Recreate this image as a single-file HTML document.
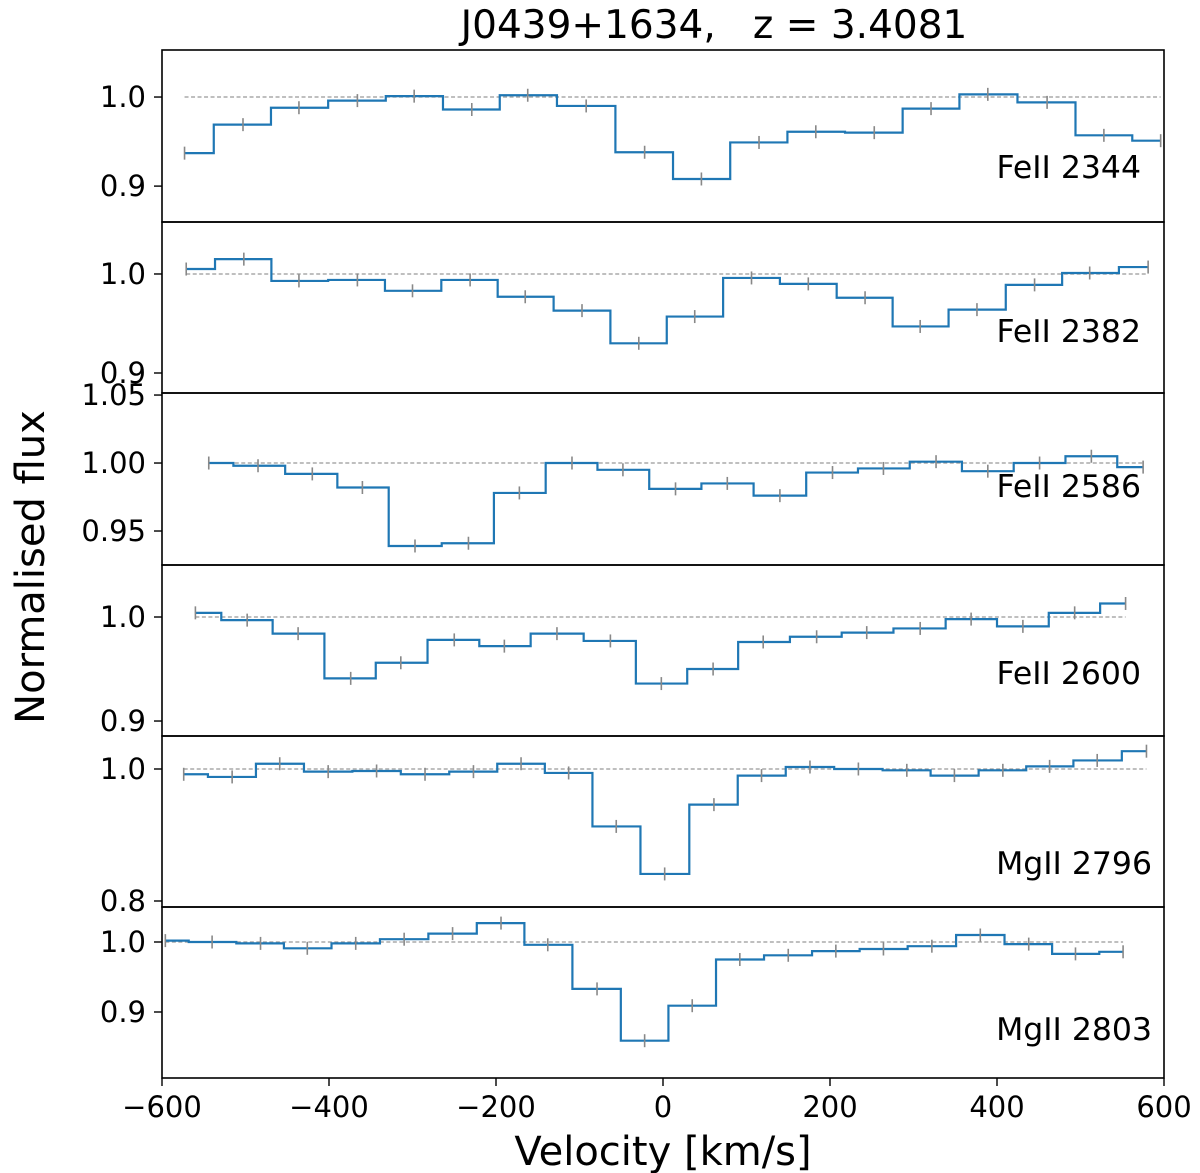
<!DOCTYPE html>
<html><head><meta charset="utf-8"><style>
html,body{margin:0;padding:0;background:#fff;}
svg{display:block;font-family:"DejaVu Sans","Liberation Sans",sans-serif;}
text{white-space:pre;}
</style></head><body>
<svg id="chart" width="1200" height="1173" viewBox="0 0 1200 1173" xmlns="http://www.w3.org/2000/svg">
<text x="714" y="38" font-size="39" text-anchor="middle" xml:space="preserve">J0439+1634,   z = 3.4081</text>
<text transform="translate(44,567) rotate(-90)" font-size="40" text-anchor="middle">Normalised flux</text>
<text x="663" y="1165" font-size="40" text-anchor="middle">Velocity [km/s]</text>
<g id="panels"></g>
</svg>
<script>
// ---- data ----
const labels = ["FeII 2344","FeII 2382","FeII 2586","FeII 2600","MgII 2796","MgII 2803"];
const vel1 = [-573,-503,-436,-366,-298,-229,-162,-92,-22,46,115,183,253,321,389,460,528,596];
const flux1 = [0.937,0.969,0.988,0.996,1.001,0.986,1.002,0.990,0.938,0.908,0.949,0.961,0.960,0.987,1.003,0.994,0.957,0.951];
const vel2 = [-571,-502,-436,-366,-300,-231,-165,-97,-29,38,106,174,242,308,376,445,511,581];
const flux2 = [1.005,1.015,0.993,0.994,0.983,0.994,0.977,0.963,0.930,0.957,0.996,0.990,0.976,0.947,0.964,0.989,1.001,1.007];
const vel3 = [-544,-485,-420,-360,-297,-233,-172,-109,-48,15,77,140,203,264,327,389,451,513,575];
const flux3 = [1.000,0.998,0.992,0.982,0.939,0.941,0.978,1.000,0.995,0.981,0.985,0.976,0.993,0.996,1.001,0.994,1.000,1.005,0.997];
const vel4 = [-560,-498,-437,-374,-314,-250,-190,-127,-63,-2,60,120,184,244,308,369,431,493,554];
const flux4 = [1.004,0.997,0.984,0.941,0.956,0.978,0.972,0.984,0.977,0.936,0.950,0.976,0.981,0.985,0.989,0.998,0.991,1.004,1.013];
const vel5 = [-574,-516,-459,-401,-343,-285,-227,-170,-113,-56,2,61,118,176,234,292,349,407,463,520,579];
const flux5 = [0.992,0.988,1.008,0.996,0.997,0.992,0.996,1.008,0.994,0.913,0.841,0.946,0.990,1.003,1.000,0.998,0.990,0.998,1.004,1.013,1.027];
const vel6 = [-596,-540,-482,-426,-368,-310,-252,-194,-138,-79,-22,35,92,150,207,264,322,380,438,494,551];
const flux6 = [1.002,1.000,0.998,0.991,0.998,1.004,1.012,1.027,0.996,0.933,0.859,0.909,0.975,0.981,0.987,0.990,0.994,1.010,0.997,0.983,0.986];
const xTicks = [-600,-400,-200,0,200,400,600];
const yTicks = [[1.0,0.9],[1.0,0.9],[1.05,1.00,0.95],[1.0,0.9],[1.0,0.8],[1.0,0.9]];
const yTickText = [["1.0","0.9"],["1.0","0.9"],["1.05","1.00","0.95"],["1.0","0.9"],["1.0","0.8"],["1.0","0.9"]];
const yLims = [[0.8597,1.0528],[0.8798,1.0525],[0.9250,1.0515],[0.8856,1.0500],[0.7909,1.0500],[0.8057,1.0500]];
// ---- layout ----
const X0=162, X1=1164, XMIN=-600, XMAX=600;
const tops=[50,222,393,565,736,907,1078];
const labelY=[178,342,497,684,874,1040];
const labelX=[1141,1141,1141,1141,1152,1152];
const vels=[vel1,vel2,vel3,vel4,vel5,vel6];
const fluxes=[flux1,flux2,flux3,flux4,flux5,flux6];
const NS="http://www.w3.org/2000/svg";
const root=document.getElementById('panels');
function xs(v){return X0+(v-XMIN)/(XMAX-XMIN)*(X1-X0);}
function mk(tag,attrs,parent){const e=document.createElementNS(NS,tag);for(const k in attrs)e.setAttribute(k,attrs[k]);parent.appendChild(e);return e;}
for(let p=0;p<6;p++){
  const top=tops[p], bot=tops[p+1], lim=yLims[p];
  const ys=f=>bot-(f-lim[0])/(lim[1]-lim[0])*(bot-top);
  const g=mk('g',{},root);
  
  
  const v=vels[p], f=fluxes[p];
  const c=mk('line',{x1:xs(v[0]),x2:xs(v[v.length-1]),y1:ys(1),y2:ys(1),stroke:'#999',"stroke-width":1.3,"stroke-dasharray":"4,2.5"},g);
  
  
  let d='M'+xs(v[0])+','+ys(f[0]);
  for(let i=1;i<v.length;i++){const m=xs((v[i-1]+v[i])/2);d+=' H'+m+' V'+ys(f[i]);}
  d+=' H'+xs(v[v.length-1]);
  const s=mk('path',{d:d,fill:'none',stroke:'#1f77b4',"stroke-width":2.2},g);
  
  
  for(let i=0;i<v.length;i++){
    const e=mk('line',{x1:xs(v[i]),x2:xs(v[i]),y1:ys(f[i])-6.5,y2:ys(f[i])+6.5,stroke:'#888',"stroke-width":1.6},g);
    
    
  }
  const fr=mk('rect',{x:X0,y:top,width:X1-X0,height:bot-top,fill:'none',stroke:'#000',"stroke-width":1.6},g);
  
  
  yTicks[p].forEach((t,j)=>{
    const y=ys(t);
    const tl=mk('line',{x1:X0-8,x2:X0,y1:y,y2:y,stroke:'#000',"stroke-width":1.4},g);
    
    
    const tx=mk('text',{x:X0-16,y:y+10,"font-size":29,"text-anchor":"end"},g);
    tx.textContent=yTickText[p][j];
    
    
  });
  const lb=mk('text',{x:labelX[p],y:labelY[p],"font-size":31.5,"text-anchor":"end"},g);
  lb.textContent=labels[p];
  
  
}
xTicks.forEach(t=>{
  const x=xs(t);
  const tl=mk('line',{x1:x,x2:x,y1:1078,y2:1086,stroke:'#000',"stroke-width":1.4},root);
  
  
  const tx=mk('text',{x:x,y:1117,"font-size":29,"text-anchor":"middle"},root);
  tx.textContent=(t<0?'\u2212':'')+Math.abs(t);
  
  
});
</script>
</body></html>
